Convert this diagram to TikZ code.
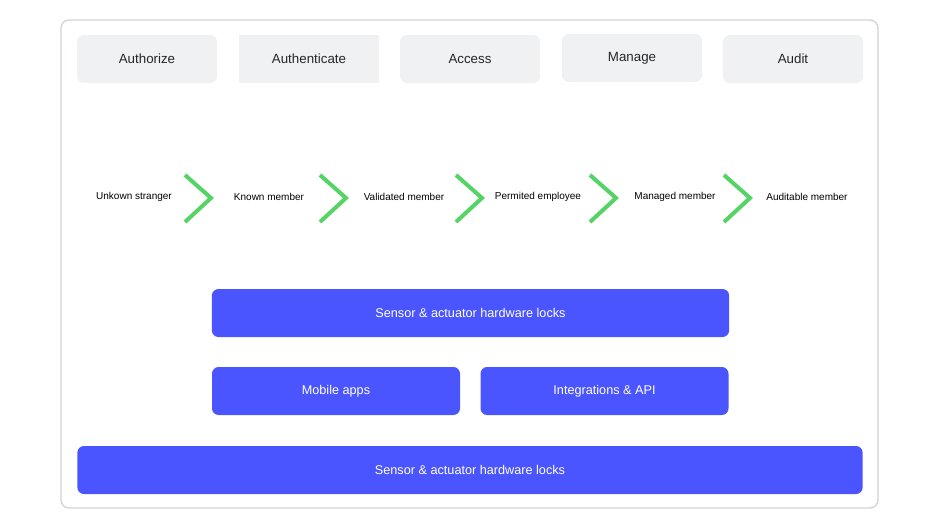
\documentclass[tikz,border=0pt]{standalone}
\usepackage{fontspec}
\setmainfont{Liberation Sans}
\usetikzlibrary{positioning}
\definecolor{tilegray}{HTML}{F0F1F3}
\definecolor{lockblue}{HTML}{4A55FF}
\definecolor{stepgreen}{HTML}{55D466}
\definecolor{framegray}{HTML}{D0D2D6}
\tikzset{
  tile/.style={fill=tilegray,rounded corners=5pt,minimum width=105pt,minimum height=36pt,font=\fontsize{10}{12}\selectfont,text=black!85},
  layer/.style={fill=lockblue,rounded corners=5pt,minimum height=36pt,text=white,font=\fontsize{9.5}{11}\selectfont},
  member/.style={font=\fontsize{7.5}{9}\selectfont,text=black},
  chev/.style={draw=stepgreen,line width=3pt}
}
\begin{document}
\begin{tikzpicture}[x=0.75pt,y=-0.75pt]
\useasboundingbox (0,0) rectangle (940,529);
\draw[framegray,rounded corners=6pt,line width=1pt] (61,20) rectangle (878,508);
% top tiles
\node[tile] (authz) at (147,59) {Authorize};
\node[tile,rounded corners=0pt] (authn) at (309,59) {Authenticate};
\node[tile] (access) at (470,59) {Access};
\node[tile] (manage) at (632,58) {Manage};
\node[tile] (audit) at (793,59) {Audit};
% member steps
\foreach \n/\x/\t in {s1/134/Unkown stranger,s2/269/Known member,s3/404/Validated member,
  s4/538/Permited employee,s5/675/Managed member,s6/807/Auditable member}
  \node[member] (\n) at (\x,197) {\t};
\foreach \x in {185,320,456,590,724}
  \draw[chev] (\x,175) -- (\x+26,198) -- (\x,222);
% platform layers
\node[layer,minimum width=388pt] (hw) at (470.5,313) {Sensor \& actuator hardware locks};
\node[layer,minimum width=186pt] (mobile) at (336,391) {Mobile apps};
\node[layer,minimum width=186pt] (api) at (604.5,391) {Integrations \& API};
\node[layer,minimum width=589pt] (base) at (470,470) {Sensor \& actuator hardware locks};
\end{tikzpicture}
\end{document}
